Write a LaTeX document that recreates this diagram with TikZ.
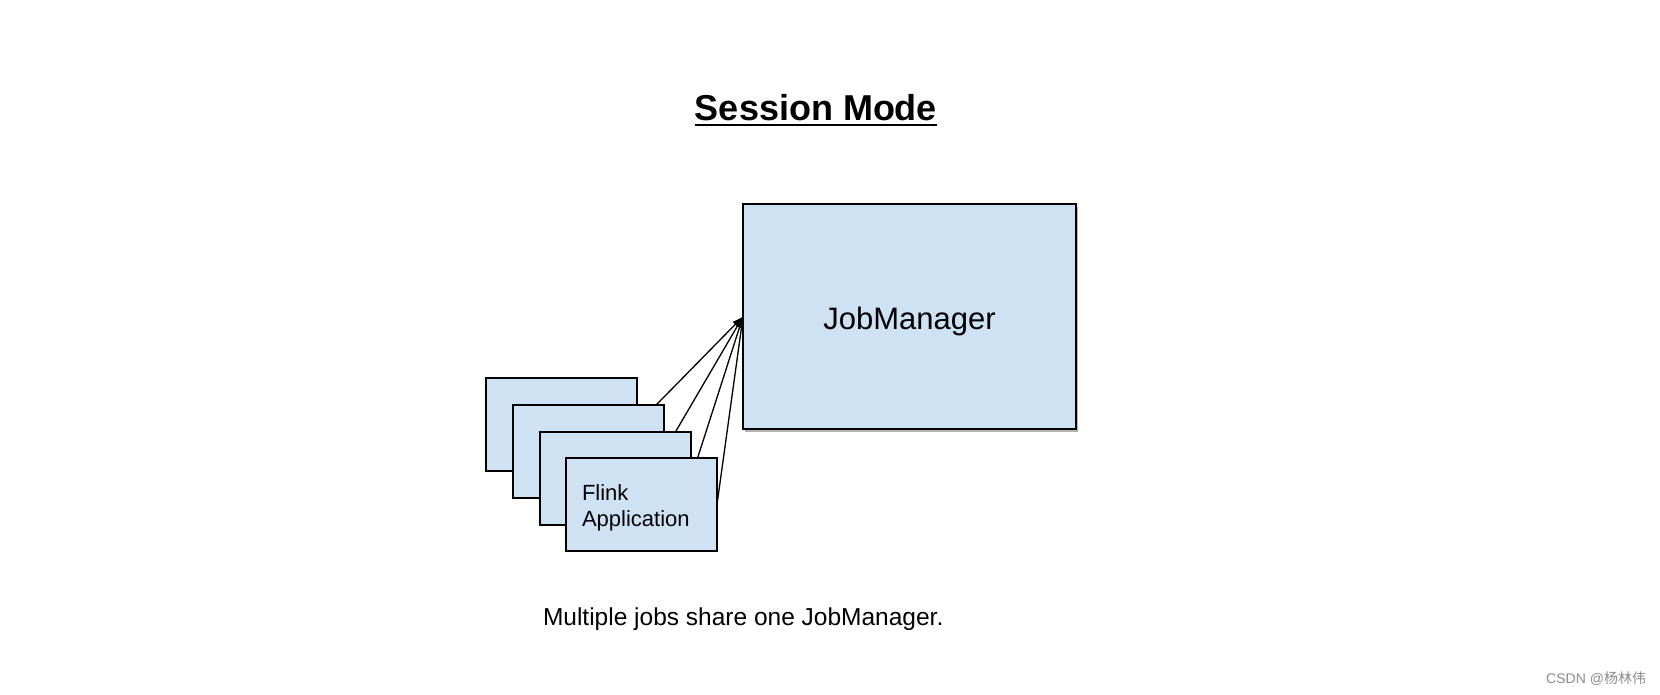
\documentclass[tikz,border=0pt]{standalone}
\usepackage{fontspec}
\setmainfont{Liberation Sans}
\newfontfamily\cjk{Noto Sans CJK SC}
\usetikzlibrary{arrows.meta,shadows}
\definecolor{boxblue}{HTML}{CFE2F3}
\pgfdeclarelayer{background}
\pgfsetlayers{background,main}
\begin{document}
\begin{tikzpicture}[x=1pt,y=-1pt,
  appbox/.style={draw=black,fill=boxblue,line width=1.3pt,minimum width=151pt,minimum height=93pt,anchor=north west,inner sep=0pt,outer sep=0pt},
  jmbox/.style={draw=black,fill=boxblue,line width=1.5pt,minimum width=333pt,minimum height=225pt,anchor=north west,inner sep=0pt,outer sep=0pt,
    drop shadow={shadow xshift=2pt,shadow yshift=-2.5pt,fill=black,opacity=0.3}},
  conn/.style={-{Latex[length=11pt,width=7.5pt]},line width=1.3pt},
  txt/.style={inner sep=0pt,outer sep=0pt}]
\useasboundingbox (0,0) rectangle (1660,694);
% title
\node[txt,anchor=base,font=\fontsize{36}{40}\selectfont\bfseries] (title) at (816,120.5) {Session Mode};
\draw[line width=2.4pt] ([yshift=-4.5pt]title.base west) -- ([yshift=-4.5pt]title.base east);
% job manager
\node[jmbox] (jm) at (743,204) {};
\node[txt,font=\fontsize{31}{36}\selectfont] (jmtext) at ([yshift=-4.5pt]jm.center) {JobManager};
% application boxes
\node[appbox] (a1) at (486,378) {};
\node[appbox] (a2) at (513,405) {};
\node[appbox] (a3) at (540,432) {};
\node[appbox] (a4) at (566,458) {};
\node[txt,anchor=base west,font=\fontsize{22}{26}\selectfont] (flink) at (582,500) {Flink};
\node[txt,anchor=base west,font=\fontsize{22}{26}\selectfont] (appl) at (582,526.5) {Application};
% connectors
\begin{pgfonlayer}{background}
\draw[conn] (a1.east) -- (jm.west);
\draw[conn] (a2.east) -- (jm.west);
\draw[conn] (a3.east) -- (jm.west);
\draw[conn] (a4.east) -- (jm.west);
\end{pgfonlayer}
% caption
\node[txt,anchor=base west,font=\fontsize{24.5}{28}\selectfont] (cap) at (543,625) {Multiple jobs share one JobManager.};
% watermark
\node[txt,anchor=base east,text=black!45,font=\fontsize{14}{16}\selectfont] (wm) at (1646,683) {CSDN @{\cjk 杨林伟}};
\end{tikzpicture}
\end{document}
